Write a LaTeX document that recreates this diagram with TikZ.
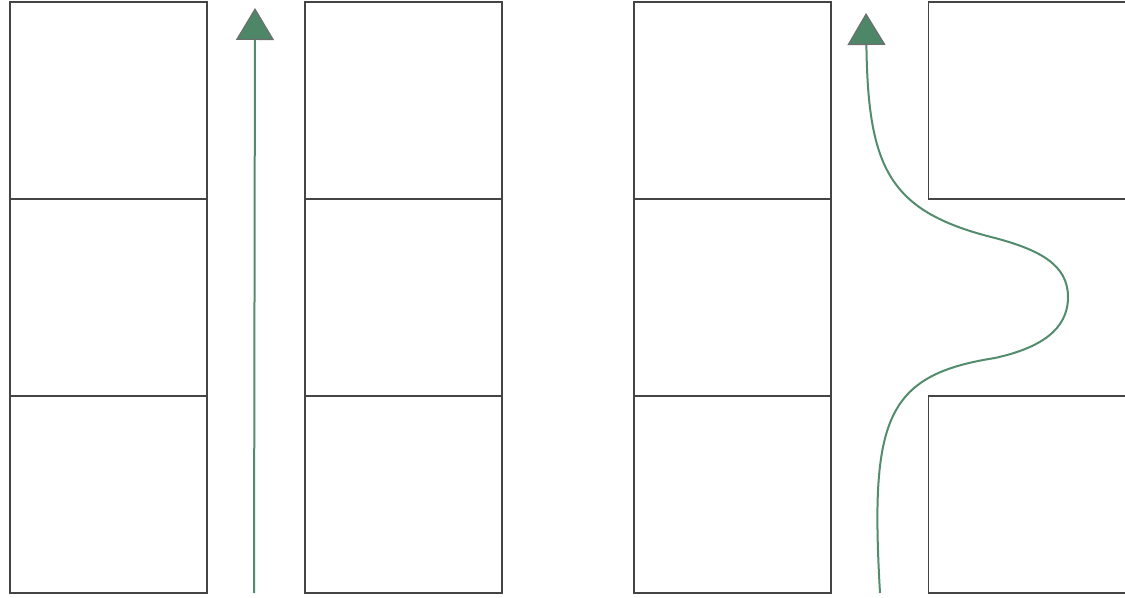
\documentclass[tikz,border=0pt]{standalone}
\usetikzlibrary{arrows.meta}
\definecolor{flowgreen}{RGB}{82,140,108}
\definecolor{tipgreen}{RGB}{78,134,104}
\definecolor{tipgray}{RGB}{110,110,110}
\definecolor{wallgray}{RGB}{68,68,68}
\tikzset{
  cell/.style={draw=wallgray, line width=1.1pt, fill=white, minimum width=147.75pt, minimum height=147.75pt, inner sep=0pt, outer sep=0pt},
  flow/.style={draw=flowgreen, line width=1.5pt, -{Triangle[width=28.5pt, length=24pt, fill=tipgreen, color=tipgray, line width=0.8pt]}}
}
\begin{document}
\begin{tikzpicture}[x=0.75pt,y=-0.75pt]
\useasboundingbox (0,0) rectangle (1125,598);
% left: straight channel
\node[cell] (a1) at (108.5,100.5) {};
\node[cell] (a2) at (108.5,297.5) {};
\node[cell] (a3) at (108.5,494.5) {};
\node[cell] (b1) at (403.5,100.5) {};
\node[cell] (b2) at (403.5,297.5) {};
\node[cell] (b3) at (403.5,494.5) {};
\coordinate (s1) at (254,593);
\coordinate (e1) at (255,8);
\draw[flow] (s1) -- (e1);
% right: channel with a gap
\node[cell] (c1) at (732.5,100.5) {};
\node[cell] (c2) at (732.5,297.5) {};
\node[cell] (c3) at (732.5,494.5) {};
\node[cell] (d1) at (1027,100.5) {};
\node[cell] (d3) at (1027,494.5) {};
\coordinate (s2) at (880,593);
\coordinate (e2) at (866,13);
\draw[flow] (s2) .. controls (870,420) and (885,375) .. (995,358)
  .. controls (1040,348) and (1068,330) .. (1068,297)
  .. controls (1068,265) and (1040,250) .. (995,238)
  .. controls (890,212) and (868,170) .. (e2);
\end{tikzpicture}
\end{document}
